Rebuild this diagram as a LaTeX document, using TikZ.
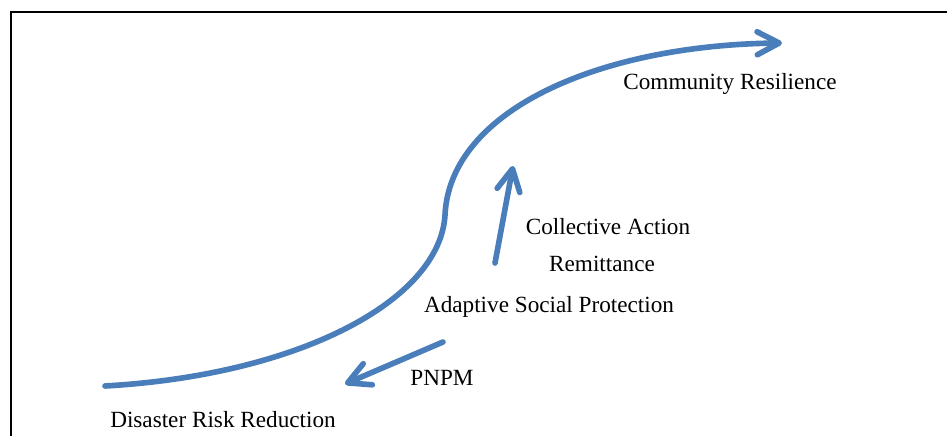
\documentclass[tikz,border=0pt]{standalone}
\usepackage{fontspec}
\setmainfont{Liberation Serif}
\usepackage{xcolor}
\usetikzlibrary{arrows.meta}

\definecolor{flowblue}{HTML}{4A7EBB}

\begin{document}
\begin{tikzpicture}[
    font=\fontsize{13.2}{16}\selectfont,
    flow/.style={draw=flowblue, line width=3.2pt, line cap=round,
        -{Straight Barb[length=4.4mm, width=4.6mm, line join=round, line cap=round]}}]
    \useasboundingbox (0,0) rectangle (18.94,-8.72);

    % frame (only top and left edges show)
    \draw[line width=1.6pt] (0.22,-8.72) |- (18.94,-0.24);

    % labels
    \node (DRR) at (4.46,-8.40) {Disaster Risk Reduction};
    \node (PNPM) at (8.84,-7.56) {PNPM};
    \node (ASP) at (10.98,-6.14) {Adaptive Social Protection};
    \node (Remit) at (12.04,-5.28) {Remittance};
    \node (Coll) at (12.16,-4.54) {Collective Action};
    \node (CR) at (14.60,-1.68) {Community Resilience};

    % arrow ends
    \coordinate (drrStart) at (2.10,-7.72);
    \coordinate (bend) at (8.90,-4.30);
    \coordinate (crEnd) at (15.64,-0.86);
    \coordinate (upStart) at (9.90,-5.26);
    \coordinate (upEnd) at (10.26,-3.32);
    \coordinate (backStart) at (8.86,-6.84);
    \coordinate (backEnd) at (6.90,-7.68);

    % main S curve
    \draw[flow] (drrStart) .. controls (6.00,-7.50) and (8.80,-6.00) .. (bend)
        .. controls (9.00,-2.20) and (12.00,-0.90) .. (crEnd);

    % small arrows
    \draw[flow] (upStart) -- (upEnd);
    \draw[flow] (backStart) -- (backEnd);
\end{tikzpicture}
\end{document}
